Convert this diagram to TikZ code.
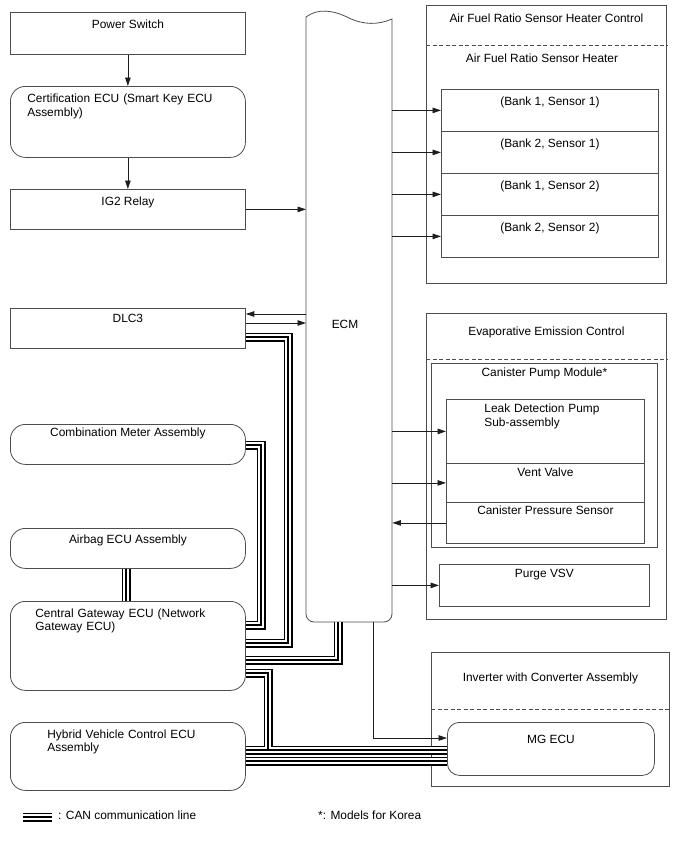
\documentclass[tikz,border=0pt]{standalone}
\usepackage{fontspec}
\setmainfont{Liberation Sans}
\usepackage{tikz}
\usetikzlibrary{arrows.meta,positioning}
\definecolor{framegray}{HTML}{4D4D4D}
\definecolor{wiregray}{HTML}{1E1E1E}
\tikzset{
  box/.style={draw=framegray, line width=0.8pt, anchor=north west, inner ysep=0pt, minimum width=235pt},
  rbox/.style={box, rounded corners=15pt},
  arr/.style={-{Triangle[length=8.5pt,width=5.5pt]}, line width=0.8pt, draw=wiregray},
  can/.style={line width=9pt, draw=black, postaction={draw=white, line width=5.4pt}, postaction={draw=black, line width=2pt}},
  dashline/.style={draw=framegray, line width=0.8pt, dash pattern=on 4pt off 2.5pt},
  lab/.style={anchor=base, inner sep=0pt},
}
\begin{document}
\begin{tikzpicture}[x=1pt, y=-1pt, font=\fontsize{11.9pt}{13.2pt}\selectfont]
\useasboundingbox (0,0) rectangle (688,852);
\node[box, text height=16.5pt, text depth=25.5pt] (ps) at (10,12) {Power Switch};
\node[rbox, text width=201pt, inner xsep=17pt, align=left, text height=16.5pt, text depth=54.5pt] (cert) at (10,86) {Certification ECU (Smart Key ECU\\Assembly)};
\node[box, text height=16pt, text depth=24pt] (ig2) at (10,189) {IG2 Relay};
\node[box, text height=14.5pt, text depth=25.5pt] (dlc) at (10,308) {DLC3};
\node[rbox, text height=12.5pt, text depth=27.5pt] (comb) at (10,424) {Combination Meter Assembly};
\node[rbox, text height=15.5pt, text depth=24.5pt] (airbag) at (10,528) {Airbag ECU Assembly};
\node[rbox, text width=185pt, inner xsep=25pt, align=left, text height=16pt, text depth=73pt] (gw) at (10,601) {Central Gateway ECU (Network\\Gateway ECU)};
\node[rbox, text width=161pt, inner xsep=37pt, align=left, text height=16pt, text depth=52pt] (hv) at (10,722) {Hybrid Vehicle Control ECU\\Assembly};

\node[inner sep=0pt, minimum width=86pt, minimum height=605pt, anchor=north west] (ecm) at (306,17) {};
\draw[draw=framegray, line width=0.8pt] (ecm.north west) .. controls (318,8) and (333,10) .. (349,18) .. controls (364,25) and (378,25) .. (392,19) -- (392,614) .. controls (392,618.4) and (388.4,622) .. (384,622) -- (314,622) .. controls (309.6,622) and (306,618.4) .. (306,614) -- cycle;
\node[lab] (ecmlab) at (345,328) {ECM};

\node[box, minimum width=240pt, text height=17.5pt, text depth=260.5pt] (afc) at (426,5) {Air Fuel Ratio Sensor Heater Control};
\node[lab] (afh) at (542,62) {Air Fuel Ratio Sensor Heater};
\node[box, minimum width=217pt, text height=16pt, text depth=26pt] (b11) at (441,89) {(Bank 1, Sensor 1)};
\node[box, minimum width=217pt, text height=16pt, text depth=26pt] (b21) at (441,131) {(Bank 2, Sensor 1)};
\node[box, minimum width=217pt, text height=16pt, text depth=26pt] (b12) at (441,173) {(Bank 1, Sensor 2)};
\node[box, minimum width=217pt, text height=16pt, text depth=26pt] (b22) at (441,215) {(Bank 2, Sensor 2)};

\node[box, minimum width=240pt, text height=22pt, text depth=284pt] (evap) at (426,313) {Evaporative Emission Control};
\node[box, minimum width=226pt, text height=13.5pt, text depth=170.5pt] (cpm) at (431,363) {Canister Pump Module*};
\node[box, minimum width=198pt, text width=122pt, inner xsep=38pt, align=left, text height=13.5pt, text depth=50.5pt] (leak) at (446,399) {Leak Detection Pump\\Sub-assembly};
\node[box, minimum width=198pt, text height=13.5pt, text depth=25.5pt] (vent) at (446,463) {Vent Valve};
\node[box, minimum width=198pt, text height=12.5pt, text depth=28.5pt] (cps) at (446,502) {Canister Pressure Sensor};
\node[box, minimum width=210pt, text height=13.5pt, text depth=28.5pt] (purge) at (439,564) {Purge VSV};

\node[box, minimum width=238pt, text height=29.5pt, text depth=104.5pt] (inv) at (431,652) {Inverter with Converter Assembly};
\node[rbox, rounded corners=12pt, minimum width=207pt, text height=21.5pt, text depth=31.5pt] (mg) at (447,722) {MG ECU};

\draw[dashline] (afc.west |- 0,45) -- (afc.east |- 0,45);
\draw[dashline] (evap.west |- 0,359) -- (evap.east |- 0,359);
\draw[dashline] (inv.west |- 0,709) -- (inv.east |- 0,709);

\draw[arr] (ps) -- (cert);
\draw[arr] (cert) -- (ig2);
\draw[arr] (ig2.east) -- (ig2.east -| ecm.west);
\draw[arr] (ecm.west |- 0,314) -- (dlc.east |- 0,314);
\draw[arr] (dlc.east |- 0,323) -- (ecm.west |- 0,323);
\foreach \b in {b11,b21,b12,b22} \draw[arr] (ecm.east |- \b.west) -- (\b.west);
\foreach \b in {leak,vent,purge} \draw[arr] (ecm.east |- \b.west) -- (\b.west);
\draw[arr] (cps.west) -- (ecm.east |- cps.west);
\draw[arr] (ecm.south -| 373,0) |- (mg.west |- 0,738);

\draw[can] (dlc.east |- 0,337) -| (288,643) -- (gw.east |- 0,643);
\draw[can] (comb.east |- 0,445) -| (261,625) -- (gw.east |- 0,625);
\draw[can] (airbag.south -| 126,0) -- (gw.north -| 126,0);
\draw[can] (ecm.south -| 338,0) |- (gw.east |- 0,660);
\draw[can] (gw.east |- 0,673) -| (268,750) (hv.east |- 0,750) -- (mg.west |- 0,750);
\draw[can] (hv.east |- 0,761) -- (mg.west |- 0,761);

\coordinate (canA) at (23,817);
\coordinate (canB) at (52,817);
\draw[can] (canA) -- (canB);
\node[lab, anchor=base west] (canlab) at (58,819) {: CAN communication line};
\node[lab, anchor=base west] (korea) at (318,819) {*: Models for Korea};
\end{tikzpicture}
\end{document}
